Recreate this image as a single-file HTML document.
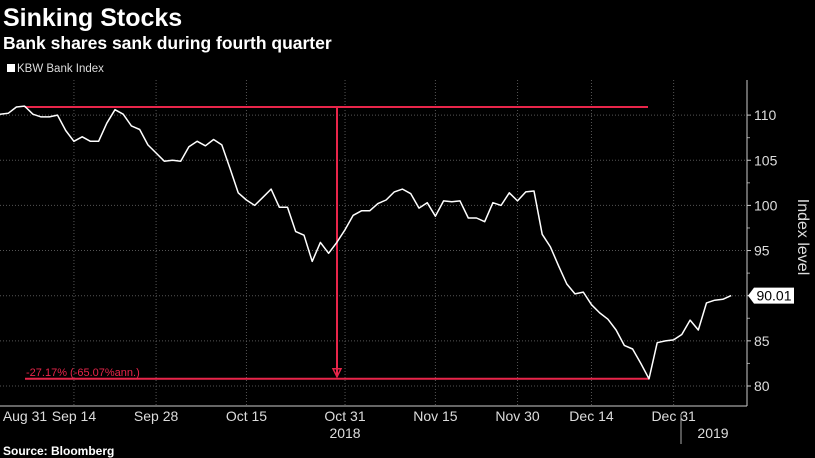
<!DOCTYPE html>
<html><head><meta charset="utf-8"><style>
html,body{margin:0;padding:0;background:#000;}
body{width:815px;height:458px;overflow:hidden;font-family:"Liberation Sans",sans-serif;color:#fff;}
svg{display:block;}
</style></head><body>
<svg width="815" height="458" viewBox="0 0 815 458" xmlns="http://www.w3.org/2000/svg">
<text x="3" y="26" font-size="25" font-weight="bold" fill="#fff">Sinking Stocks</text>
<text x="3" y="49" font-size="17.5" font-weight="bold" fill="#fff">Bank shares sank during fourth quarter</text>
<rect x="7" y="64" width="8" height="8" fill="#fff"/>
<text x="17" y="72" font-size="11.5" fill="#ddd">KBW Bank Index</text>
<g id="grid"></g>
<g id="axes"></g>
<g id="marks"></g>
<text x="0" y="0" font-size="16" fill="#ddd" text-anchor="middle" transform="translate(798,237) rotate(90)">Index level</text>
<text x="3" y="455" font-size="12" font-weight="bold" fill="#fff">Source: Bloomberg</text>
</svg>
<script>
const values = [110.1,110.2,110.9,111.0,110.1,109.8,109.8,110.0,108.3,107.1,107.6,107.1,107.1,109.1,110.6,110.1,108.8,108.4,106.7,105.8,104.9,105.0,104.9,106.5,107.1,106.6,107.3,106.7,104.1,101.4,100.6,100.0,100.9,101.8,99.8,99.8,97.1,96.7,93.8,95.9,94.7,95.9,97.3,98.9,99.4,99.4,100.2,100.6,101.5,101.8,101.3,99.7,100.3,98.8,100.5,100.4,100.5,98.6,98.6,98.2,100.3,100.0,101.4,100.5,101.5,101.6,96.8,95.4,93.3,91.3,90.2,90.4,89.0,88.1,87.4,86.2,84.5,84.1,82.5,80.8,84.8,85.0,85.1,85.7,87.3,86.2,89.2,89.5,89.6,90.01];
const xTickLabels = ["Aug 31","Sep 14","Sep 28","Oct 15","Oct 31","Nov 15","Nov 30","Dec 14","Dec 31"];
const xTickIndex = [3,10,20,31,43,54,64,73,83];
const yTicks = [80,85,90,95,100,105,110];
const peakValue = 110.9, troughValue = 80.8;
const changeLabel = "-27.17% (-65.07%ann.)";

const NS="http://www.w3.org/2000/svg";
const plotTop=80, plotBottom=406, axisX=747;
const X = i => i*8.215;
const Y = v => 386-(v-80)*9.03;
function mk(tag, attrs, parent, text){const e=document.createElementNS(NS,tag);for(const k in attrs)e.setAttribute(k,attrs[k]);if(text!==undefined)e.textContent=text;parent.appendChild(e);return e;}
const grid=document.getElementById('grid'), axes=document.getElementById('axes'), marks=document.getElementById('marks');

yTicks.forEach(t=>{
  const l=mk('line',{x1:0,x2:axisX,y1:Y(t),y2:Y(t),stroke:'#555','stroke-width':1,'stroke-dasharray':'1,2'},grid);
  
  
  const tk=mk('line',{x1:axisX,x2:axisX+4,y1:Y(t),y2:Y(t),stroke:'#ccc'},axes);
  
  
  const tx=mk('text',{x:axisX+7,y:Y(t)+5,'font-size':14,fill:'#ddd'},axes,String(t));
  
  
});
for(let v=82.5;v<112;v+=5){
  const m=mk('line',{x1:axisX,x2:axisX+3,y1:Y(v),y2:Y(v),stroke:'#999'},axes);
  
  
}
xTickIndex.forEach((ix,k)=>{
  const x=X(ix-1);
  if(k>0){
    const g=mk('line',{x1:x,x2:x,y1:plotTop,y2:plotBottom,stroke:'#555','stroke-dasharray':'1,2'},grid);
    
    
  }
  const t=mk('text',{x:k===0?25:x,y:421,'font-size':14,fill:'#ddd','text-anchor':'middle'},axes,xTickLabels[k]);
  
  
});
const ax=mk('line',{x1:axisX,x2:axisX,y1:plotTop,y2:plotBottom,stroke:'#ccc'},axes);


const bx=mk('line',{x1:0,x2:axisX,y1:plotBottom,y2:plotBottom,stroke:'#ccc'},axes);


const y18=mk('text',{x:X(42),y:438,'font-size':14,fill:'#ddd','text-anchor':'middle'},axes,'2018');


const y19=mk('text',{x:713,y:438,'font-size':14,fill:'#ddd','text-anchor':'middle'},axes,'2019');


const sep=mk('line',{x1:681,x2:681,y1:414,y2:444,stroke:'#aaa'},axes);



const peakIdx=values.indexOf(Math.max(...values)), troughIdx=values.indexOf(Math.min(...values));
const peakLine=mk('line',{x1:X(peakIdx),x2:648,y1:Y(peakValue),y2:Y(peakValue),stroke:'#e8254a','stroke-width':2},marks);


const troughLine=mk('line',{x1:25,x2:X(troughIdx),y1:Y(troughValue),y2:Y(troughValue),stroke:'#e8254a','stroke-width':2},marks);


const vx=337;
const vl=mk('line',{x1:vx,x2:vx,y1:Y(peakValue),y2:Y(troughValue)-2,stroke:'#e8254a','stroke-width':2},marks);


const ah=mk('path',{d:`M${vx-4},${Y(troughValue)-10} L${vx+4},${Y(troughValue)-10} L${vx},${Y(troughValue)-2} Z`,fill:'none',stroke:'#e8254a','stroke-width':1.5},marks);


const al=mk('text',{x:26,y:Y(troughValue)-3,'font-size':11,fill:'#e8254a'},marks,changeLabel);



const pts=values.map((v,i)=>X(i).toFixed(1)+','+Y(v).toFixed(1)).join(' ');
const pl=mk('polyline',{points:pts,fill:'none',stroke:'#fff','stroke-width':1.5,'stroke-linejoin':'round'},marks);



const lv=values[values.length-1], ly=Y(lv);
const tag=mk('path',{d:`M${axisX+1},${ly} L${axisX+7},${ly-8} L${axisX+47},${ly-8} L${axisX+47},${ly+8} L${axisX+7},${ly+8} Z`,fill:'#fff'},marks);


const tt=mk('text',{x:axisX+27,y:ly+5,'font-size':14,fill:'#000','text-anchor':'middle'},marks,lv.toFixed(2));


</script>
</body></html>
